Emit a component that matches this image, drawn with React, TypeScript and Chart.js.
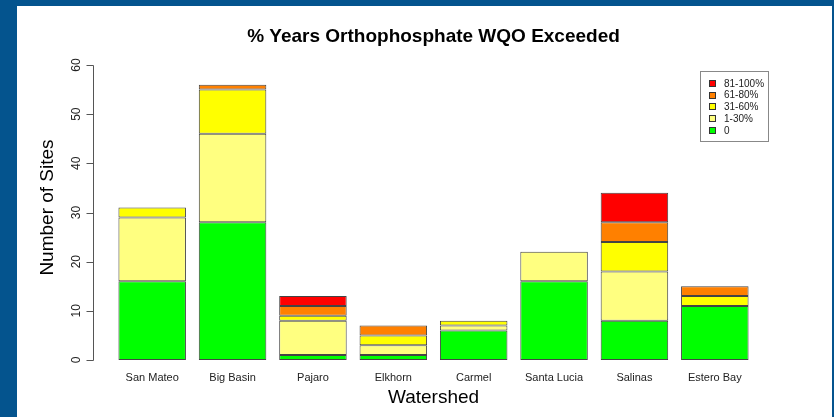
import React, { useEffect, useRef } from "react";
import { Chart, registerables } from "chart.js";

Chart.register(...registerables);

const categories = ["San Mateo", "Big Basin", "Pajaro", "Elkhorn", "Carmel", "Santa Lucia", "Salinas", "Estero Bay"];
const seriesLabels = ["0", "1-30%", "31-60%", "61-80%", "81-100%"];
const zeroPct = [16, 28, 1, 1, 6, 16, 8, 11];
const pct1to30 = [13, 18, 7, 2, 1, 6, 10, 0];
const pct31to60 = [2, 9, 1, 2, 1, 0, 6, 2];
const pct61to80 = [0, 1, 2, 2, 0, 0, 4, 2];
const pct81to100 = [0, 0, 2, 0, 0, 0, 6, 0];
const yTicks = [0, 10, 20, 30, 40, 50, 60];

const seriesValues = [zeroPct, pct1to30, pct31to60, pct61to80, pct81to100];
const seriesColors = ["#00FF00", "#FFFF80", "#FFFF00", "#FF8000", "#FF0000"];

const FONT = "Arial, 'Liberation Sans', sans-serif";

const rAxisPlugin = {
  id: "rAxis",
  afterDraw(chart: any) {
    const ctx = chart.ctx;
    const y = chart.scales.y;
    const axisX = 93;
    ctx.save();
    ctx.strokeStyle = "#555";
    ctx.lineWidth = 1;
    ctx.beginPath();
    ctx.moveTo(axisX + 0.5, Math.round(y.getPixelForValue(yTicks[0])) + 0.5);
    ctx.lineTo(axisX + 0.5, Math.round(y.getPixelForValue(yTicks[yTicks.length - 1])) + 0.5);
    yTicks.forEach((t) => {
      const py = Math.round(y.getPixelForValue(t)) + 0.5;
      ctx.moveTo(axisX + 0.5, py);
      ctx.lineTo(axisX - 6.5, py);
    });
    ctx.stroke();
    ctx.fillStyle = "#222";
    ctx.font = `12px ${FONT}`;
    ctx.textAlign = "center";
    ctx.textBaseline = "middle";
    yTicks.forEach((t) => {
      const py = y.getPixelForValue(t);
      ctx.save();
      ctx.translate(77, py);
      ctx.rotate(-Math.PI / 2);
      ctx.fillText(String(t), 0, 0);
      ctx.restore();
    });
    ctx.fillStyle = "#000";
    ctx.font = `19px ${FONT}`;
    ctx.save();
    ctx.translate(48, 207.5);
    ctx.rotate(-Math.PI / 2);
    ctx.fillText("Number of Sites", 0, 0);
    ctx.restore();

    const bx = 700, by = 71, bw = 68, bh = 70;
    ctx.strokeStyle = "#888";
    ctx.strokeRect(bx + 0.5, by + 0.5, bw, bh);
    ctx.font = `10px ${FONT}`;
    ctx.textAlign = "left";
    ctx.textBaseline = "middle";
    const ds = chart.data.datasets;
    for (let k = 0; k < ds.length; k++) {
      const d = ds[ds.length - 1 - k];
      const cy = 83.3 + k * 11.75;
      ctx.fillStyle = d.backgroundColor;
      ctx.fillRect(709, Math.round(cy - 3.5), 7, 7);
      ctx.strokeStyle = "#333";
      ctx.strokeRect(709.5, Math.round(cy - 3.5) + 0.5, 6, 6);
      ctx.fillStyle = "#222";
      ctx.fillText(d.label, 724, cy + 0.5);
    }
    ctx.restore();
  },
};

export default function App() {
  const canvasRef = useRef<HTMLCanvasElement | null>(null);

  useEffect(() => {
    const canvas = canvasRef.current;
    if (!canvas) return;
    const chart = new Chart(canvas, {
      type: "bar",
      data: {
        labels: categories,
        datasets: seriesLabels.map((label, i) => ({
          label,
          data: seriesValues[i],
          backgroundColor: seriesColors[i],
          borderColor: "#444",
          borderWidth: 1,
          borderSkipped: false,
          barPercentage: 0.84,
          categoryPercentage: 1,
        })),
      },
      options: {
        responsive: false,
        animation: false,
        devicePixelRatio: 1,
        layout: { padding: { left: 112, right: 79, top: 0, bottom: 0 } },
        plugins: {
          legend: { display: false },
          tooltip: { enabled: false },
          title: {
            display: true,
            text: "% Years Orthophosphate WQO Exceeded",
            color: "#000",
            font: { family: FONT, size: 19, weight: "bold", lineHeight: 1.2 },
            padding: { top: 25.6, bottom: 16.6 },
          },
        },
        scales: {
          x: {
            stacked: true,
            grid: { display: false, drawTicks: false },
            border: { display: false },
            ticks: {
              color: "#222",
              padding: 11,
              maxRotation: 0,
              autoSkip: false,
              font: { family: FONT, size: 11 },
            },
            title: {
              display: true,
              text: "Watershed",
              color: "#000",
              font: { family: FONT, size: 19, lineHeight: 1.2 },
              padding: { top: 0, bottom: 7.5 },
            },
            afterFit: (s: any) => {
              s.height = 57;
            },
          },
          y: {
            display: false,
            stacked: true,
            min: 0,
            max: 60,
          },
        },
      },
      plugins: [rAxisPlugin],
    });
    return () => chart.destroy();
  }, []);

  return (
    <div style={{ position: "fixed", left: 0, top: 0, width: 834, height: 417, background: "#04548E", overflow: "hidden" }}>
      <div style={{ position: "absolute", left: 17, top: 6, width: 815, height: 411, background: "#FFFFFF" }} />
      <canvas ref={canvasRef} width={834} height={417} style={{ position: "absolute", left: 0, top: 0, width: 834, height: 417 }} />
    </div>
  );
}
